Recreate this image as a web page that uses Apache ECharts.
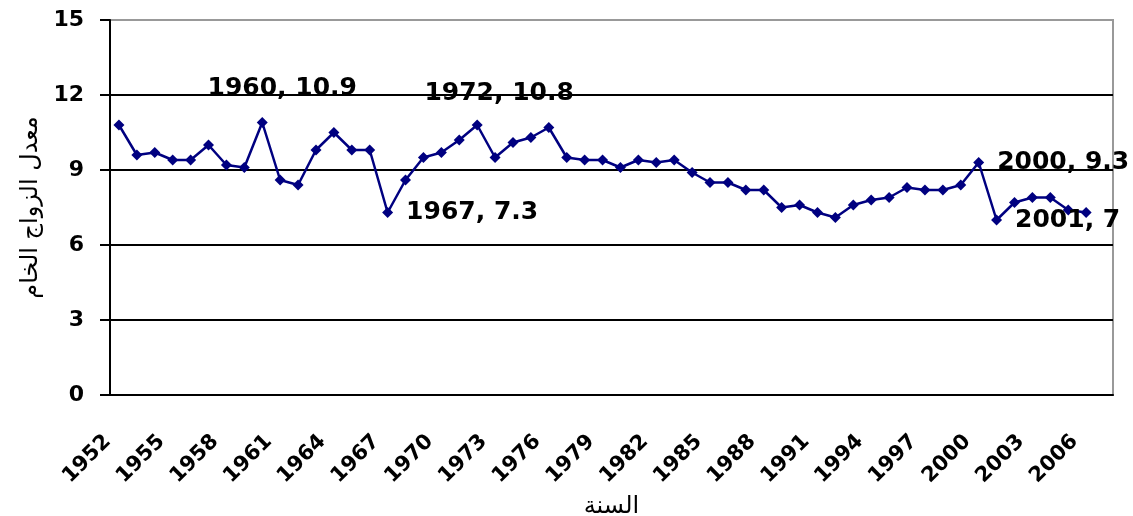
<!DOCTYPE html>
<html>
<head>
<meta charset="utf-8">
<title>معدل الزواج الخام</title>
<script src="https://cdn.jsdelivr.net/npm/echarts@6/dist/echarts.min.js"></script>
<style>
    html, body { margin: 0; padding: 0; background: #fff; }
    #main { width: 1133px; height: 516px; }
</style>
</head>
<body>
<div id="main"></div>
<script>
// years on the axis (last one has no value)
var years = ['1952','1953','1954','1955','1956','1957','1958','1959','1960','1961',
    '1962','1963','1964','1965','1966','1967','1968','1969','1970','1971',
    '1972','1973','1974','1975','1976','1977','1978','1979','1980','1981',
    '1982','1983','1984','1985','1986','1987','1988','1989','1990','1991',
    '1992','1993','1994','1995','1996','1997','1998','1999','2000','2001',
    '2002','2003','2004','2005','2006','2007'];

// crude marriage rate, 1952 - 2006
var rates = [10.8, 9.6, 9.7, 9.4, 9.4, 10.0, 9.2, 9.1, 10.9, 8.6,
    8.4, 9.8, 10.5, 9.8, 9.8, 7.3, 8.6, 9.5, 9.7, 10.2,
    10.8, 9.5, 10.1, 10.3, 10.7, 9.5, 9.4, 9.4, 9.1, 9.4,
    9.3, 9.4, 8.9, 8.5, 8.5, 8.2, 8.2, 7.5, 7.6, 7.3,
    7.1, 7.6, 7.8, 7.9, 8.3, 8.2, 8.2, 8.4, 9.3, 7.0,
    7.7, 7.9, 7.9, 7.4, 7.3];

var yTicks = [0, 3, 6, 9, 12, 15];

// points that carry a "year, value" label
var labelYears = ['1960', '1967', '1972', '2000', '2001'];

var myChart = echarts.init(document.getElementById('main'));

var boldFont = 'DejaVu Sans';

function labelFor(year) {
    if (year == '1960') {
        return { show: true, position: 'top', distance: 16 };
    }
    if (year == '1972') {
        return { show: true, position: 'top', distance: 14 };
    }
    // 1967, 2000, 2001 sit to the right of the point
    return { show: true, position: 'right', distance: 13 };
}

var seriesData = new Array();
for (var i = 0; i < rates.length; i++) {
    var item = { value: rates[i] };
    if (labelYears.indexOf(years[i]) > -1) {
        item.label = labelFor(years[i]);
    }
    seriesData.push(item);
}

var option = {
    backgroundColor: '#fff',
    animation: false,
    grid: {
        left: 110,
        right: 20,
        top: 20,
        bottom: 121,
        outerBoundsMode: 'none',
        containLabel: false,
        show: true,
        borderColor: '#999',
        borderWidth: 2
    },
    xAxis: {
        type: 'category',
        data: years,
        boundaryGap: true,
        name: 'السنة',
        nameLocation: 'middle',
        nameGap: 100,
        nameTextStyle: {
            fontFamily: boldFont,
            fontSize: 24,
            color: '#000'
        },
        axisLine: { lineStyle: { color: '#000', width: 2 } },
        axisTick: {
            interval: 0,
            length: 8,
            lineStyle: { color: '#000', width: 2 }
        },
        axisLabel: {
            interval: 2,
            rotate: 45,
            margin: 32,
            padding: [0, 16, 0, 0],
            fontFamily: boldFont,
            fontWeight: 'bold',
            fontSize: 21,
            color: '#000'
        },
        splitLine: { show: false }
    },
    yAxis: {
        type: 'value',
        min: yTicks[0],
        max: yTicks[yTicks.length - 1],
        interval: 3,
        name: 'معدل الزواج الخام',
        nameLocation: 'middle',
        nameGap: 56,
        nameTextStyle: {
            fontFamily: boldFont,
            fontSize: 24,
            color: '#000'
        },
        axisLine: { show: true, lineStyle: { color: '#000', width: 2 } },
        axisTick: { show: true, length: 10, lineStyle: { color: '#000', width: 2 } },
        axisLabel: {
            margin: 26,
            fontFamily: boldFont,
            fontWeight: 'bold',
            fontSize: 22,
            color: '#000'
        },
        splitLine: {
            show: true,
            lineStyle: {
                color: ['#000', '#000', '#000', '#000', '#000', '#999'],
                width: 2
            }
        }
    },
    series: [{
        name: 'rate',
        type: 'line',
        data: seriesData,
        symbol: 'diamond',
        symbolSize: 11,
        lineStyle: { color: '#000080', width: 2.5 },
        itemStyle: { color: '#000080' },
        label: {
            show: false,
            formatter: function (p) { return p.name + ', ' + p.value; },
            fontFamily: boldFont,
            fontWeight: 'bold',
            fontSize: 25,
            color: '#000'
        },
        // nudge the two top labels a bit to the right, like the original
        labelLayout: function (params) {
            var y = years[params.dataIndex];
            if (y == '1960') {
                return { dx: 20, hideOverlap: false };
            }
            if (y == '1972') {
                return { dx: 22, hideOverlap: false };
            }
            return { hideOverlap: false };
        },
        z: 3
    }]
};

myChart.setOption(option);
window.onresize = myChart.resize;
</script>
</body>
</html>
